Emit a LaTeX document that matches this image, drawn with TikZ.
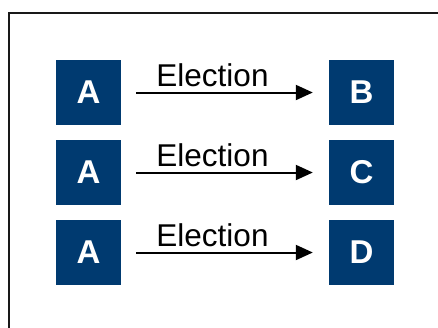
\documentclass[tikz,border=0pt]{standalone}
\usepackage{fontspec}
\setmainfont{Liberation Sans}
\usetikzlibrary{arrows.meta}

\definecolor{boxblue}{RGB}{0,58,112}

\tikzset{
  hostbox/.style={fill=boxblue, text=white, minimum size=65pt, inner sep=0pt,
    font=\fontsize{33}{33}\selectfont\bfseries},
  elect/.style={line width=2pt, -{Triangle[length=17pt,width=15pt]},
    shorten <=15pt, shorten >=16pt},
  electlbl/.style={anchor=base, font=\fontsize{31.5}{31.5}\selectfont, inner sep=0pt}
}

\begin{document}
\begin{tikzpicture}[x=1pt, y=-1pt]
        \useasboundingbox (0,0) rectangle (438,327);
        \draw [line width=2pt, black!90] (8.5, 328) -- (8.5, 12.5) -- (439, 12.5);

        \node (a1) at (88.5,  92.5) [hostbox] {A};
        \node (b1) at (361.5, 92.5) [hostbox] {B};
        \draw [elect] (a1) -- (b1);
        \node (l1) at (212.5, 86) [electlbl] {Election};

        \node (a2) at (88.5,  172.5) [hostbox] {A};
        \node (c2) at (361.5, 172.5) [hostbox] {C};
        \draw [elect] (a2) -- (c2);
        \node (l2) at (212.5, 166) [electlbl] {Election};

        \node (a3) at (88.5,  252.5) [hostbox] {A};
        \node (d3) at (361.5, 252.5) [hostbox] {D};
        \draw [elect] (a3) -- (d3);
        \node (l3) at (212.5, 246) [electlbl] {Election};
      \end{tikzpicture}
\end{document}
